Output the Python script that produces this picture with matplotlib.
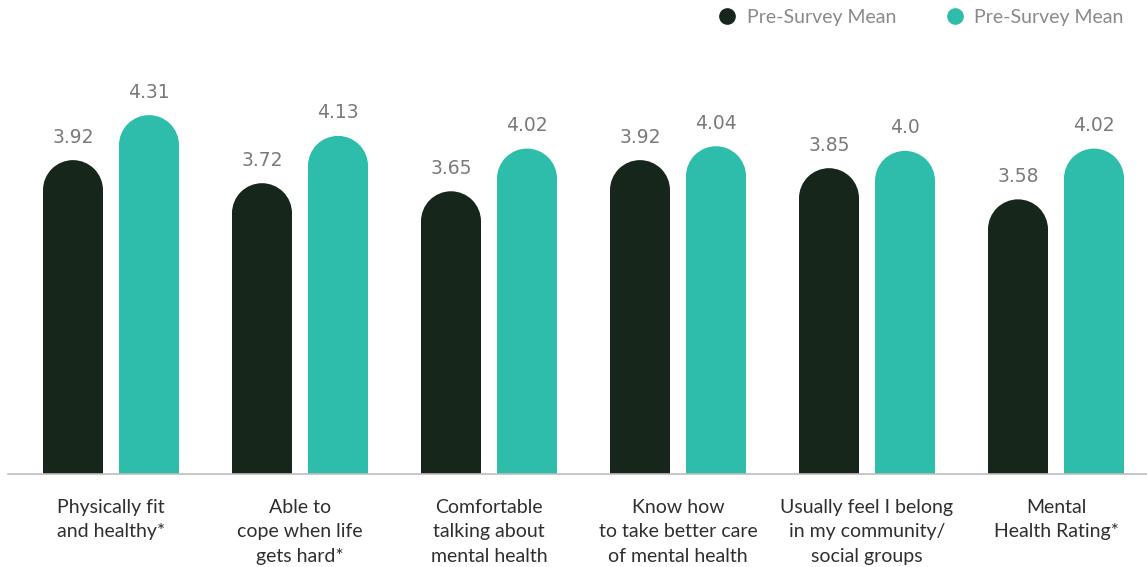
import matplotlib.pyplot as plt
from matplotlib.patches import Ellipse
from matplotlib.lines import Line2D
import numpy as np

categories = ['Physically fit\nand healthy*', 'Able to\ncope when life\ngets hard*',
              'Comfortable\ntalking about\nmental health', 'Know how\nto take better care\nof mental health',
              'Usually feel I belong\nin my community/\nsocial groups', 'Mental\nHealth Rating*']
pre_values = [3.92, 3.72, 3.65, 3.92, 3.85, 3.58]
post_values = [4.31, 4.13, 4.02, 4.04, 4.0, 4.02]
pre_labels = ['3.92', '3.72', '3.65', '3.92', '3.85', '3.58']
post_labels = ['4.31', '4.13', '4.02', '4.04', '4.0', '4.02']
series_names = ['Pre-Survey Mean', 'Pre-Survey Mean']

dark = '#16261a'
teal = '#2ebdab'

W, H = 1147, 567
fig = plt.figure(figsize=(W / 100, H / 100), dpi=100)
base_px = 474  # baseline from top
ax = fig.add_axes([0, (H - base_px) / H, 1, base_px / H])

# scale: pixels per unit
ppu = 115.4
ymin = 1.2
ax.set_ylim(ymin, ymin + base_px / ppu)
gap = 189.0
ax.set_xlim(-111 / gap, (W - 111) / gap)

bw = 60 / gap
off = 38 / gap
r = 30 / ppu  # cap height in data units

x = np.arange(len(categories))
for vals, labs, col, sgn in [(pre_values, pre_labels, dark, -1), (post_values, post_labels, teal, 1)]:
    xs = x + sgn * off
    tops = np.array(vals) - r
    ax.bar(xs, tops - ymin, bottom=ymin, width=bw, color=col, linewidth=0)
    for xi, t, v, lab in zip(xs, tops, vals, labs):
        ax.add_patch(Ellipse((xi, t), bw, 2 * r, color=col, linewidth=0))
        ax.text(xi, v + 0.2, lab, ha='center', va='center', fontsize=13.5,
                color='#7a7a7a', family='DejaVu Sans')

ax.axhline(ymin, xmin=8 / W, xmax=1, color='#bdbdbd', linewidth=1.2, clip_on=False)

for s in ax.spines.values():
    s.set_visible(False)
ax.set_yticks([])
ax.set_xticks(x)
ax.set_xticklabels(categories, fontsize=14, color='#2f2f2f', family='Lato', linespacing=1.52)
ax.tick_params(axis='x', length=0, pad=18)

handles = [Line2D([], [], marker='o', linestyle='', markersize=11, color=dark),
           Line2D([], [], marker='o', linestyle='', markersize=11, color=teal)]
leg = fig.legend(handles, series_names, loc='center right', bbox_to_anchor=(1.0 - 12 / W, 1 - 17 / H),
                 ncol=2, frameon=False, handletextpad=0.0, columnspacing=2.0,
                 borderaxespad=0.2, prop={'family': 'Lato', 'size': 14})
for t in leg.get_texts():
    t.set_color('#8a8a8a')

fig.savefig('out.png', dpi=100)
